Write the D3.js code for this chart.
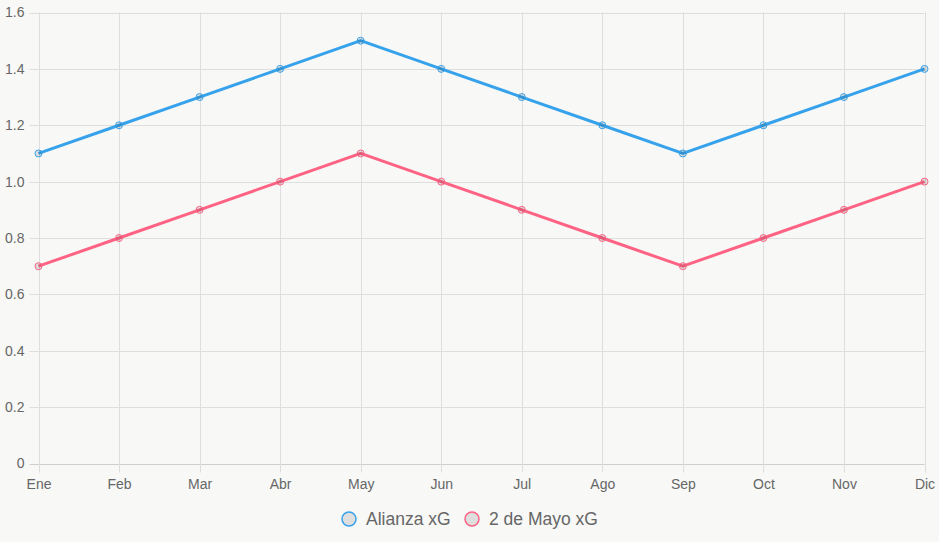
<!DOCTYPE html>
<html>
<head>
<meta charset="utf-8">
<style>
  body { margin: 0; background: #f8f8f7; }
  svg { display: block; font-family: "Helvetica Neue", Helvetica, Arial, "Liberation Sans", sans-serif; }
  .grid line { stroke: #dedede; stroke-width: 1; }
  .axis text { fill: #666; font-size: 14px; }
  .axis .domain { display: none; }
</style>
</head>
<body>
<svg id="chart" width="939" height="542"></svg>
<script src="https://d3js.org/d3.v7.min.js"></script>
<script>

var months = ["Ene", "Feb", "Mar", "Abr", "May", "Jun", "Jul", "Ago", "Sep", "Oct", "Nov", "Dic"];
var alianza = [1.1, 1.2, 1.3, 1.4, 1.5, 1.4, 1.3, 1.2, 1.1, 1.2, 1.3, 1.4];
var dosDeMayo = [0.7, 0.8, 0.9, 1.0, 1.1, 1.0, 0.9, 0.8, 0.7, 0.8, 0.9, 1.0];
var yTicks = [0, 0.2, 0.4, 0.6, 0.8, 1.0, 1.2, 1.4, 1.6];

var series = [
  { name: "Alianza xG", values: alianza, color: "#36a2eb" },
  { name: "2 de Mayo xG", values: dosDeMayo, color: "#ff6384" }
];

var svg = d3.select("#chart");
var plot = { left: 38.5, right: 924.5, top: 12.5, bottom: 463.5 };

var x = d3.scalePoint().domain(months).range([plot.left, plot.right]);
var y = d3.scaleLinear().domain([0, 1.6]).range([plot.bottom, plot.top]);

// grid
var grid = svg.append("g").attr("class", "grid");
grid.selectAll("line.h")
  .data(yTicks)
  .enter().append("line")
    .attr("x1", plot.left - 9).attr("x2", plot.right)
    .attr("y1", function(d) { return Math.round(y(d)) + 0.5; })
    .attr("y2", function(d) { return Math.round(y(d)) + 0.5; })
    .style("stroke", function(d) { return d === 0 ? "#cfcfcf" : null; });
grid.selectAll("line.v")
  .data(months)
  .enter().append("line")
    .attr("x1", function(d) { return Math.round(x(d)) + 0.5; })
    .attr("x2", function(d) { return Math.round(x(d)) + 0.5; })
    .attr("y1", plot.top).attr("y2", plot.bottom + 9);

// axes
svg.append("g")
    .attr("class", "axis")
    .attr("transform", "translate(" + (plot.left - 14) + ",0)")
    .call(d3.axisLeft(y).tickValues(yTicks).tickSize(0).tickPadding(0)
      .tickFormat(function(d) { return d === 0 ? "0" : d3.format(".1f")(d); }));

svg.append("g")
    .attr("class", "axis")
    .attr("transform", "translate(0," + (plot.bottom + 16) + ")")
    .call(d3.axisBottom(x).tickSize(0).tickPadding(0));

// lines and points
var line = d3.line()
    .x(function(d, i) { return x(months[i]); })
    .y(function(d) { return y(d); });

series.forEach(function(s) {
  svg.append("path")
      .datum(s.values)
      .attr("fill", "none")
      .attr("stroke", s.color)
      .attr("stroke-width", 3)
      .attr("stroke-linejoin", "round")
      .attr("d", line);

  svg.append("g")
    .selectAll("circle")
    .data(s.values)
    .enter().append("circle")
      .attr("cx", function(d, i) { return x(months[i]); })
      .attr("cy", function(d) { return y(d); })
      .attr("r", 3.5)
      .attr("fill", "rgba(0,0,0,0.1)")
      .attr("stroke", s.color)
      .attr("stroke-width", 1);
});

// legend
var legendX = [349, 472];
var legend = svg.append("g")
  .selectAll("g")
  .data(series)
  .enter().append("g")
    .attr("transform", function(d, i) { return "translate(" + legendX[i] + ",519)"; });

legend.append("circle")
    .attr("r", 7)
    .attr("fill", "#dedede")
    .attr("stroke", function(d) { return d.color; })
    .attr("stroke-width", 1.5);

legend.append("text")
    .attr("x", 17)
    .attr("dy", "0.35em")
    .attr("fill", "#666")
    .style("font-size", "17.5px")
    .text(function(d) { return d.name; });

</script>
</body>
</html>
